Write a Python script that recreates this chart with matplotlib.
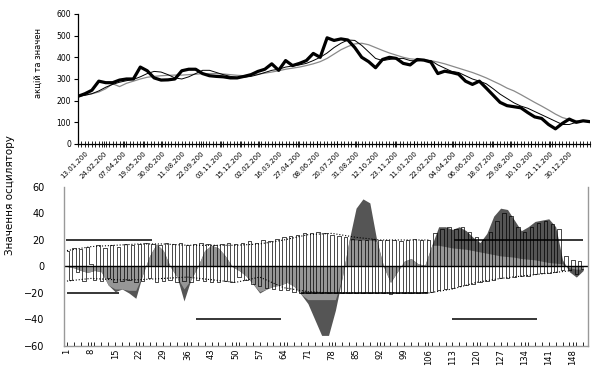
import numpy as np
import matplotlib
matplotlib.use('Agg')
import matplotlib.pyplot as plt

# ---- top panel: share price and two moving averages (every 2nd point) ----
price = [220, 232, 248, 290, 283, 283, 295, 300, 300, 355,
         338, 305, 295, 296, 300, 338, 345, 345, 325, 315,
         312, 310, 305, 305, 312, 320, 335, 345, 370, 340,
         385, 362, 372, 385, 418, 400, 490, 478, 485, 480,
         445, 400, 380, 352, 390, 400, 395, 372, 365, 390,
         387, 378, 325, 336, 330, 322, 290, 275, 290, 258,
         225, 192, 177, 172, 167, 145, 125, 118, 90, 70,
         95, 115, 100, 107, 103]
ma_short = [220, 225, 232, 245, 262, 275, 285, 292, 298, 310,
            325, 335, 332, 320, 305, 300, 310, 325, 340, 340,
            330, 320, 312, 308, 308, 312, 320, 330, 340, 345,
            355, 360, 365, 372, 385, 400, 420, 445, 465, 480,
            478, 455, 425, 395, 385, 390, 395, 395, 385, 383,
            387, 385, 365, 350, 335, 330, 315, 300, 290, 278,
            255, 230, 210, 190, 175, 165, 150, 135, 120, 105,
            90, 90, 100, 105, 105]
ma_long = [220, 225, 232, 240, 255, 278, 265, 280, 290, 300,
           308, 312, 315, 317, 318, 318, 320, 322, 325, 325,
           325, 323, 320, 317, 315, 318, 322, 327, 332, 338,
           345, 350, 355, 362, 370, 380, 395, 415, 435, 450,
           462, 465, 458, 445, 432, 420, 410, 400, 393, 390,
           388, 385, 378, 370, 360, 350, 340, 330, 318, 305,
           290, 275, 258, 245, 228, 210, 192, 175, 157, 138,
           122, 113, 108, 105, 103]
date_labels = ['13.01.200', '24.02.200', '07.04.200', '19.05.200', '30.06.200',
               '11.08.200', '22.09.200', '03.11.200', '15.12.200', '02.02.200',
               '16.03.200', '27.04.200', '08.06.200', '20.07.200', '31.08.200',
               '12.10.200', '23.11.200', '11.01.200', '22.02.200', '04.04.200',
               '06.06.200', '18.07.200', '29.08.200', '10.10.200', '21.11.200',
               '30.12.200']

# ---- bottom panel: oscillator ----
osc = [0, -1, -3, -4.5, -3, -4, -14, -19, -17, -20,
       -24, -6, 8, 17, 12, 0, -8, -26, -10, 0,
       12, 16, 14, 8, 0, -3, -7, -13, -20, -17,
       -15, -14, -12, -15, -21, -28, -40, -52, -52, -33,
       -8, 20, 44, 51, 48, 20, 0, -12, -4, 4,
       6, 2, 1, 16, 30, 30, 28, 30, 27, 22,
       18, 25, 38, 44, 43, 35, 27, 30, 34, 35,
       36, 30, 5, -4, -8, -3]
osc_smooth = [0, -1, -3, -4.5, -3, -4, -14, -17, -17, -18,
              -18, -6, 8, 17, 12, 0, -8, -17, -10, 0,
              12, 16, 14, 8, 0, -3, -7, -13, -19, -17,
              -15, -14, -12, -15, -21, -25, -25, -25, -25, -25,
              -8, 20, 20, 20, 20, 19, 0, -12, -4, 4,
              6, 2, 1, 16, 16, 15, 14, 13.5, 13, 12,
              11, 10, 9, 8, 7.5, 7, 6, 5.5, 5, 4,
              3, 2.5, 2, -1, -2, -2]
momentum = [12, -10, 14, -4, 13, -11, 15, 2, -10, 16,
            -11, 14, -9, 16, -12, 15, -11, 17, -10, 16,
            -12, 17, -11, 18, -9, 17, -12, 16, -11, 18,
            -10, 17, -12, 18, -11, 16, -12, 17, -10, 18,
            -11, 17, -12, 16, -12, 17, -11, 18, -12, 17,
            -8, 18, -10, 19, -13, 18, -15, 20, -16, 19,
            -17, 21, -18, 22, -18, 23, -19, 24, -20, 25,
            -20, 25, -20, 26, -20, 25, -20, 24, -20, 23,
            -20, 22, -20, 21, -20, 20, -20, 20, -20, 21,
            -20, 20, -20, 20, -21, 20, -20, 19, -20, 20,
            -20, 21, -20, 20, -19, 20, -19, 25, -18, 28,
            -17, 30, -16, 28, -15, 30, -14, 26, -13, 22,
            -12, 20, -11, 26, -10, 34, -9, 40, -9, 38,
            -8, 30, -7, 26, -7, 30, -6, 33, -5, 34,
            -5, 32, -4, 28, -3, 8, -3, 5, -6, 4,
            -2]
env_upper = [12, 15, 16, 17, 17, 16, 16, 16, 17, 20, 24, 25, 22, 20, 20, 20]
env_lower = [-11, -9, -10, -10, -9, -8, -10, -12, -8, -16, -19,
             -20, -20, -20, -20, -20, -17, -12, -9, -7, -5, -3]
# threshold segments: level, start, end
seg_level = [20, -20, -40, -20, 20, -40]
seg_start = [0.7, 1, 38.6, 69, 113.5, 113]
seg_end = [25.7, 16, 63.3, 106, 151, 137.6]

fig = plt.figure(figsize=(6.11, 3.68), dpi=100)
plt.rcParams['font.family'] = ['DejaVu Sans']

# top panel
ax1 = fig.add_axes([0.1277, 0.6087, 0.838, 0.3533])
xt = np.arange(0, 2 * len(price), 2)
ax1.plot(xt, ma_long, color='#8a8a8a', lw=0.9)
ax1.plot(xt, ma_short, color='black', lw=0.7)
ax1.plot(xt, price, color='black', lw=2.3)
ax1.set_xlim(0, xt[-1])
ax1.set_ylim(0, 600)
ax1.set_yticks(range(0, 601, 100))
ax1.tick_params(axis='y', labelsize=5.5, length=3, width=0.8, pad=2)
ax1.set_xticks(np.linspace(2, 142, len(date_labels)))
ax1.set_xticklabels(date_labels, rotation=45, ha='right', va='top',
                    rotation_mode='anchor', fontsize=5)
ax1.set_xticks(np.arange(0, xt[-1] + 1, 1), minor=True)
ax1.tick_params(axis='x', which='both', direction='inout', length=5, width=0.6, pad=2)
for s in ['top', 'right']:
    ax1.spines[s].set_visible(False)
ax1.spines['left'].set_linewidth(0.9)
ax1.spines['bottom'].set_linewidth(0.9)

# bottom panel
ax2 = fig.add_axes([0.1047, 0.0598, 0.8577, 0.4321])
xo = np.arange(1, 2 * len(osc), 2)
xm = np.arange(1, len(momentum) + 1)
xe = np.arange(1, 7 * len(env_lower), 7)
ax2.fill_between(xo, 0, osc, color='#555555', lw=0)
ax2.fill_between(xo, 0, osc_smooth, color='#969696', lw=0)
ax2.step(xm, momentum, where='mid', color='black', lw=0.5)
ax2.plot(xe[:len(env_upper)], env_upper, color='black', ls=':', lw=0.8)
ax2.plot(xe, env_lower, color='black', ls=':', lw=0.8)
ax2.hlines(seg_level, seg_start, seg_end, color='black', lw=1.1)
ax2.axhline(0, color='black', lw=1.0)
ax2.set_xlim(0.13, 152.4)
ax2.set_ylim(-60, 60)
ax2.set_yticks(range(-60, 61, 20))
ax2.tick_params(axis='y', labelsize=7, length=0, pad=14)
ax2.set_xticks(np.arange(1, 149, 7))
ax2.set_xticklabels([str(v) for v in range(1, 149, 7)], rotation=90, fontsize=6)
ax2.set_xticks(np.arange(1, 152, 2), minor=True)
ax2.tick_params(axis='x', which='both', direction='in', length=3, width=0.6, pad=2)
ax2.spines['top'].set_visible(False)
for s in ['left', 'right', 'bottom']:
    ax2.spines[s].set_color('#999999')
    ax2.spines[s].set_linewidth(1.0)

fig.text(0.017, 0.47, 'Значення осцилятору', rotation=90, ha='center', va='center',
         fontsize=7.5)
fig.text(0.062, 0.83, 'акцій та значен', rotation=90, ha='center', va='center',
         fontsize=6)

fig.savefig('out.png', dpi=100)
